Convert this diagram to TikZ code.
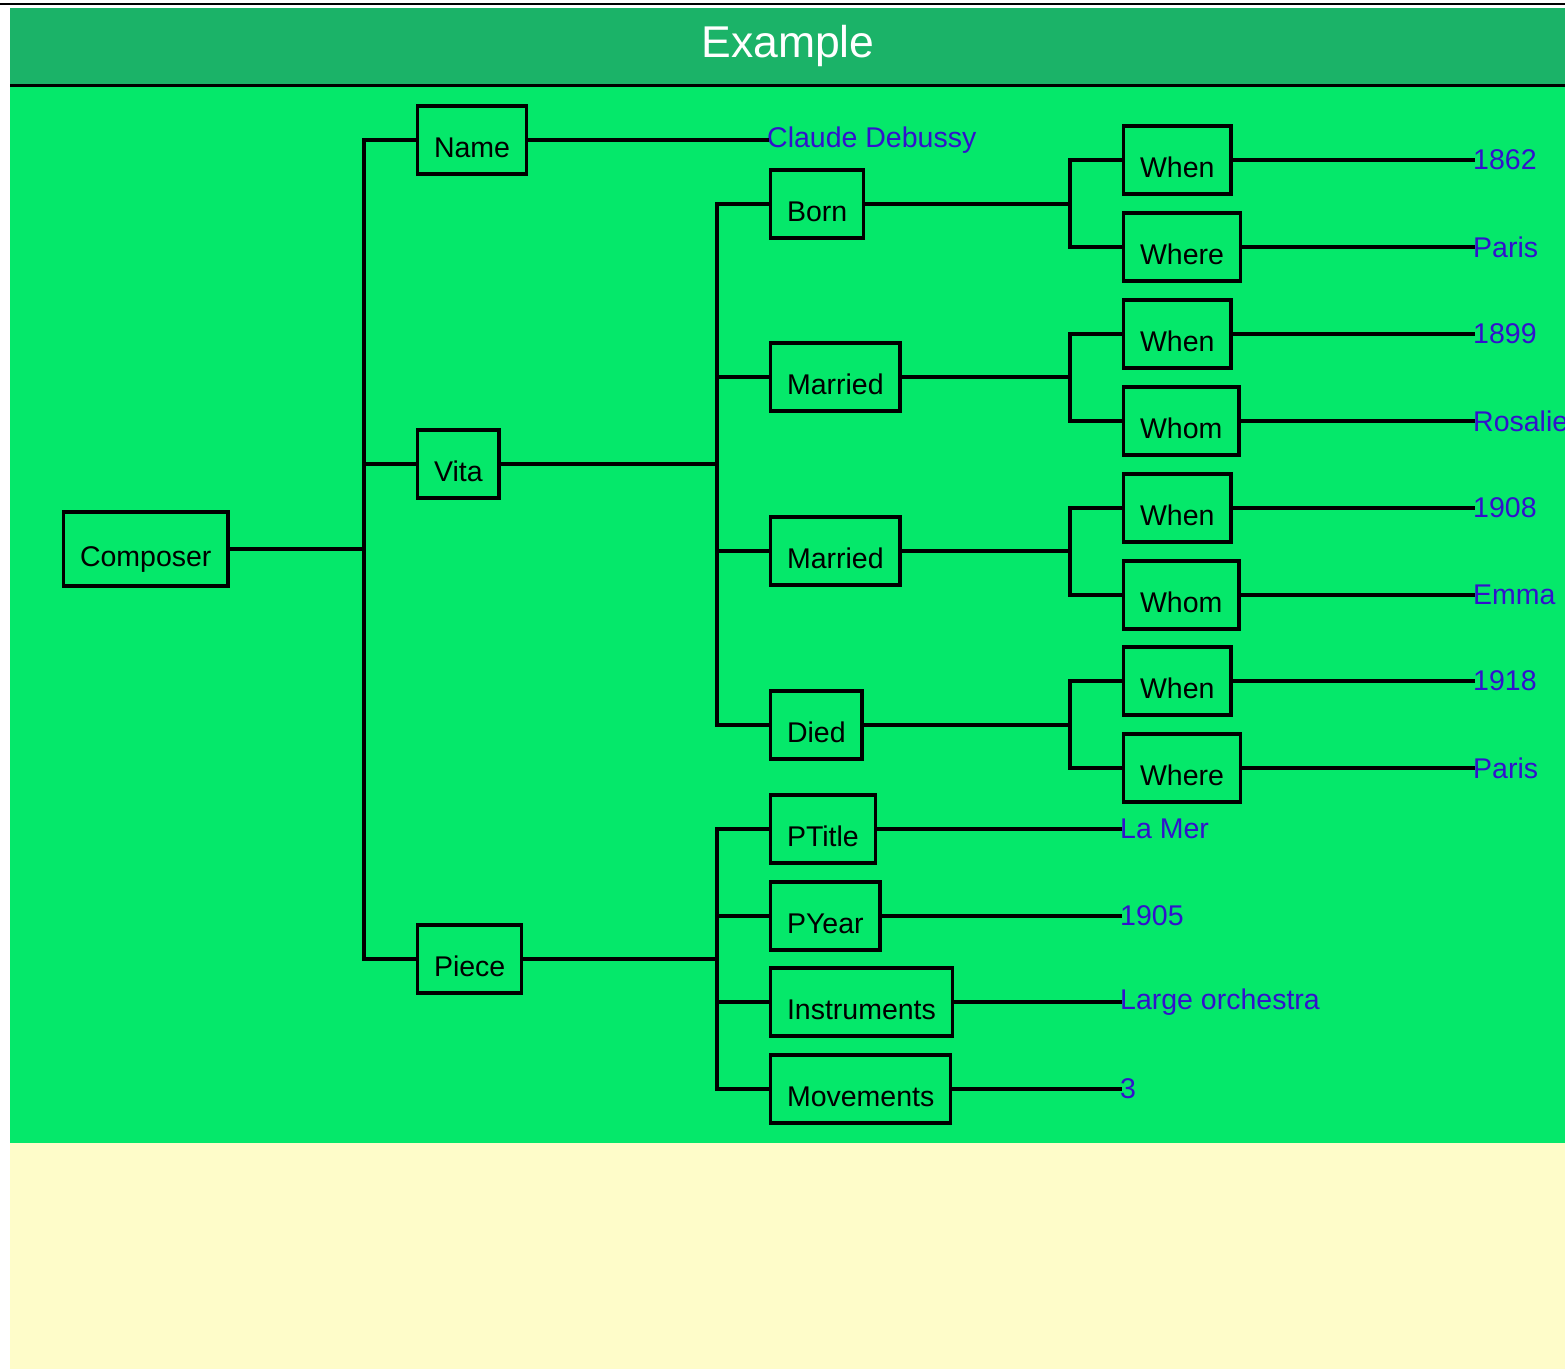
\documentclass[tikz,border=0pt]{standalone}
\usepackage{fontspec}
\setmainfont{Liberation Sans}
\definecolor{barGreen}{RGB}{27,179,104}
\definecolor{mainGreen}{RGB}{5,232,106}
\definecolor{paleYellow}{RGB}{254,252,201}
\definecolor{valBlue}{RGB}{51,17,204}
\tikzset{
  box/.style={draw=black, line width=3.3pt, anchor=west, outer sep=0pt,
    inner xsep=16.5pt, inner ysep=0pt, minimum height=68pt,
    text height=40pt, text depth=6pt, font=\fontsize{28.5}{28.5}\selectfont},
  val/.style={anchor=west, inner sep=0pt, text=valBlue,
    font=\fontsize{28.5}{28.5}\selectfont},
  wire/.style={line width=3.3pt, line cap=rect},
}
\begin{document}
\begin{tikzpicture}[x=1pt,y=-1pt]
\useasboundingbox (0,0) rectangle (1565,1369);
% background panels
\fill[white] (0,0) rectangle (1565,1369);
\fill[barGreen] (10,8) rectangle (1565,85);
\fill[mainGreen] (10,85) rectangle (1565,1142.5);
\fill[paleYellow] (10,1142.5) rectangle (1565,1369);
\draw[line width=2.5pt] (0,4) -- (1565,4);
\draw[line width=3pt] (10,85.5) -- (1565,85.5);
\node[anchor=base, text=white, inner sep=0pt, font=\fontsize{44.5}{44.5}\selectfont] (title) at (788,57) {Example};

% bus columns
\coordinate (busA) at (364,0);
\coordinate (busB) at (717,0);
\coordinate (busC) at (1070,0);

% tree nodes
\node[box, minimum height=74pt] (comp) at (63.5,549) {Composer};
\node[box] (name) at (417.5,140) {Name};
\node[box] (vita) at (417.5,464) {Vita};
\node[box] (piece) at (417.5,959) {Piece};

\node[box] (born) at (770.5,204) {Born};
\node[box] (mar1) at (770.5,377) {Married};
\node[box] (mar2) at (770.5,551) {Married};
\node[box] (died) at (770.5,725) {Died};

\node[box] (ptitle) at (770.5,829) {PTitle};
\node[box] (pyear) at (770.5,916) {PYear};
\node[box] (instr) at (770.5,1002) {Instruments};
\node[box] (moves) at (770.5,1089) {Movements};

\node[box] (bwhen) at (1123.5,160) {When};
\node[box] (bwhere) at (1123.5,247) {Where};
\node[box] (m1when) at (1123.5,334) {When};
\node[box] (m1whom) at (1123.5,421) {Whom};
\node[box] (m2when) at (1123.5,508) {When};
\node[box] (m2whom) at (1123.5,595) {Whom};
\node[box] (dwhen) at (1123.5,681) {When};
\node[box] (dwhere) at (1123.5,768) {Where};

% leaf values
\node[val] (vname) at (767,140) {Claude Debussy};
\node[val] (vbwhen) at (1473,160) {1862};
\node[val] (vbwhere) at (1473,247) {Paris};
\node[val] (vm1when) at (1473,334) {1899};
\node[val] (vm1whom) at (1473,421) {Rosalie};
\node[val] (vm2when) at (1473,508) {1908};
\node[val] (vm2whom) at (1473,595) {Emma};
\node[val] (vdwhen) at (1473,681) {1918};
\node[val] (vdwhere) at (1473,768) {Paris};
\node[val] (vptitle) at (1120,829) {La Mer};
\node[val] (vpyear) at (1120,916) {1905};
\node[val] (vinstr) at (1120,1002) {Large orchestra};
\node[val] (vmoves) at (1120,1089) {3};

% level 1
\draw[wire] (comp.east) -- (comp.east -| busA);
\draw[wire] (name.west) -| (busA |- piece.west) -- (piece.west);
\draw[wire] (vita.west) -- (vita.west -| busA);
\draw[wire] (name.east) -- (vname.west);

% vita branch
\draw[wire] (vita.east) -- (vita.east -| busB);
\draw[wire] (born.west) -| (busB |- died.west) -- (died.west);
\draw[wire] (mar1.west) -- (mar1.west -| busB);
\draw[wire] (mar2.west) -- (mar2.west -| busB);

% piece branch
\draw[wire] (piece.east) -- (piece.east -| busB);
\draw[wire] (ptitle.west) -| (busB |- moves.west) -- (moves.west);
\draw[wire] (pyear.west) -- (pyear.west -| busB);
\draw[wire] (instr.west) -- (instr.west -| busB);
\draw[wire] (ptitle.east) -- (vptitle.west);
\draw[wire] (pyear.east) -- (vpyear.west);
\draw[wire] (instr.east) -- (vinstr.west);
\draw[wire] (moves.east) -- (vmoves.west);

% event branches
\foreach \ev/\a/\b in {born/bwhen/bwhere, mar1/m1when/m1whom, mar2/m2when/m2whom, died/dwhen/dwhere}{
  \draw[wire] (\ev.east) -- (\ev.east -| busC);
  \draw[wire] (\a.west) -| (busC |- \b.west) -- (\b.west);
}
\foreach \k/\v in {bwhen/vbwhen, bwhere/vbwhere, m1when/vm1when, m1whom/vm1whom,
                   m2when/vm2when, m2whom/vm2whom, dwhen/vdwhen, dwhere/vdwhere}{
  \draw[wire] (\k.east) -- (\v.west);
}
\end{tikzpicture}
\end{document}
